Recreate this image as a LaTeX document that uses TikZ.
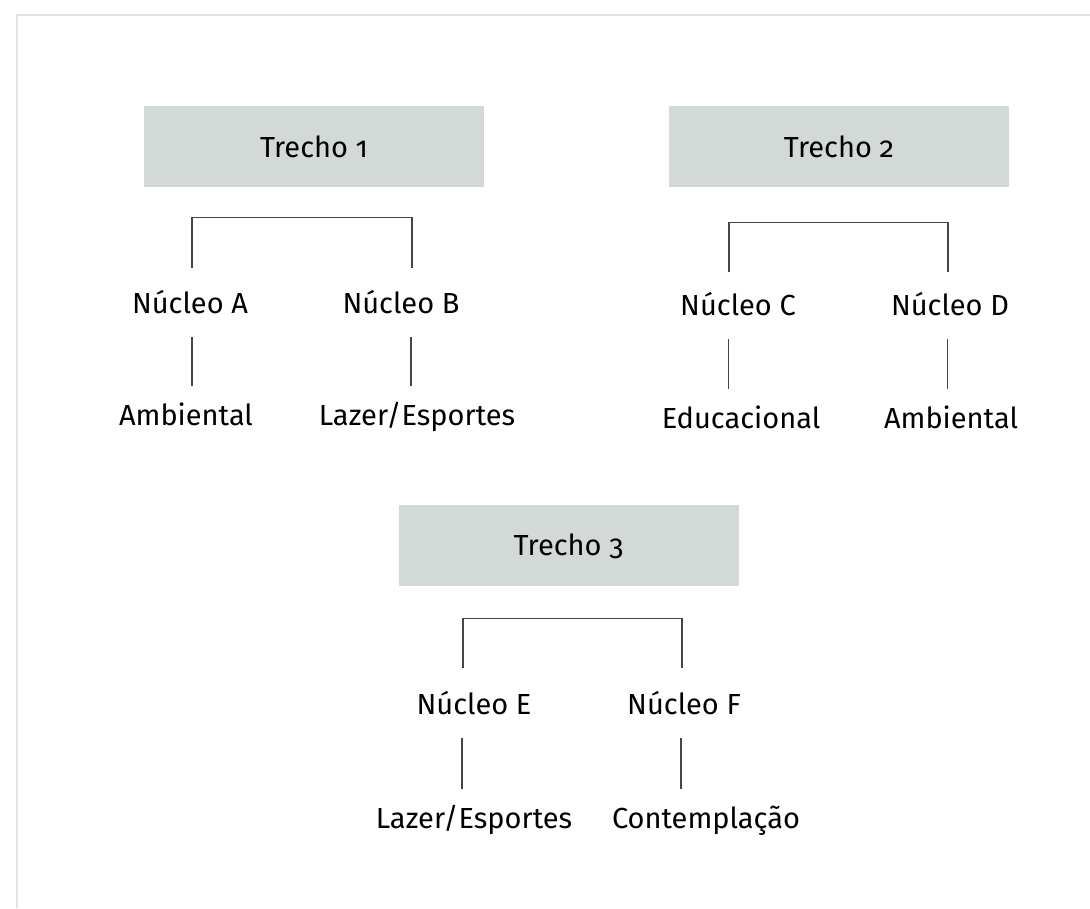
\documentclass[tikz,border=0pt]{standalone}
\usepackage{fontspec}
\setmainfont{Fira Sans}[Numbers=OldStyle]
\usepackage{tikz}
\definecolor{boxgrey}{RGB}{211,217,214}
\definecolor{linegrey}{RGB}{70,70,70}
\definecolor{framegrey}{RGB}{226,226,226}

\begin{document}
\begin{tikzpicture}[x=1pt, y=-1pt,
    trecho/.style={rectangle, fill=boxgrey, minimum width=340pt, minimum height=81pt,
        inner sep=0pt, font=\fontsize{29}{34}\selectfont, text height=21pt, text depth=0pt},
    item/.style={anchor=base, inner sep=0pt, font=\fontsize{29}{34}\selectfont,
        text height=22pt, text depth=0pt},
    link/.style={draw=linegrey, line width=1.2pt},
    frame/.style={draw=framegrey, line width=2pt}
]
    \useasboundingbox (0,0) rectangle (1090,908);
    \draw[frame] (17,908) |- (1090,15);

    % Trechos
    \node[trecho] (t1) at (314,146.5) {Trecho 1};
    \node[trecho] (t2) at (839,146.5) {Trecho 2};
    \node[trecho] (t3) at (568.5,545) {Trecho 3};

    % Nucleos
    \node[item] (nA) at (190,313) {Núcleo A};
    \node[item] (nB) at (401,313) {Núcleo B};
    \node[item] (nC) at (738,315) {Núcleo C};
    \node[item] (nD) at (950,315) {Núcleo D};
    \node[item] (nE) at (474,714) {Núcleo E};
    \node[item] (nF) at (684,714) {Núcleo F};

    % Usos
    \node[item] (actA) at (186,425) {Ambiental};
    \node[item] (actB) at (417,425) {Lazer/Esportes};
    \node[item] (actC) at (741,428) {Educacional};
    \node[item] (actD) at (951,428) {Ambiental};
    \node[item] (actE) at (474,828) {Lazer/Esportes};
    \node[item] (actF) at (706,828) {Contemplação};

    % Chaves
    \draw[link, shorten <=23pt, shorten >=23pt] ([xshift=2pt]nA.north) -- ++(0,-73) -| ([xshift=11pt]nB.north);
    \draw[link, shorten <=21pt, shorten >=21pt] ([xshift=-9pt]nC.north) -- ++(0,-70) -| ([xshift=-2pt]nD.north);
    \draw[link, shorten <=24pt, shorten >=24pt] ([xshift=-11pt]nE.north) -- ++(0,-73) -| ([xshift=-2pt]nF.north);

    % Ligacoes
    \foreach \n/\a/\dx in {nA/actA/2, nB/actB/10, nC/actC/-9.5, nD/actD/-2.5, nE/actE/-12, nF/actF/-3}
        \draw[link, shorten <=24pt, shorten >=17pt] ([xshift=\dx pt]\n.south) -- ([xshift=\dx pt]\n.south |- \a.north);
\end{tikzpicture}
\end{document}
